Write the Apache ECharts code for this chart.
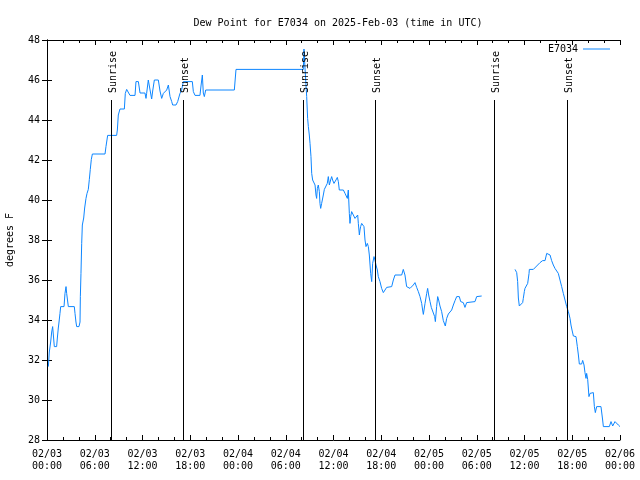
<!DOCTYPE html>
<html>
<head>
<meta charset="utf-8">
<script src="https://cdn.jsdelivr.net/npm/echarts@6/dist/echarts.min.js"></script>
<style>html,body{margin:0;padding:0;background:#fff;}#c{width:640px;height:480px;}</style>
</head>
<body>
<div id="c"></div>
<script>
// hours since 2025-02-03 00:00 UTC
const hours = [
0.17,0.29,0.46,0.59,0.71,0.92,1.21,1.30,1.42,1.51,1.63,1.72,2.14,2.26,2.39,2.47,2.68,3.43,3.52,3.64,3.73,4.02,4.15,4.19,4.27,4.36,4.44,4.61,4.73,4.90,5.03,5.19,5.32,5.44,5.57,5.70,
7.29,7.41,7.62,8.75,8.84,8.96,9.17,9.72,9.84,10.01,10.22,10.43,11.06,11.18,11.48,11.69,12.31,12.44,12.52,12.73,12.94,13.15,13.28,13.49,13.99,14.20,14.41,14.62,15.04,15.25,15.46,15.67,15.79,16.21,16.42,16.71,16.92,17.13,18.26,18.39,18.60,19.22,
19.35,19.52,19.64,19.77,19.94,23.54,23.75,32.21,32.29,32.42,32.63,32.75,
32.84,32.96,33.05,33.17,33.26,33.38,33.55,33.68,33.80,33.88,33.97,34.09,34.22,34.30,34.39,34.51,34.64,34.72,34.85,35.06,35.22,35.35,35.48,35.64,35.77,35.89,36.06,36.31,36.48,36.61,36.73,37.24,37.45,37.57,37.74,37.86,37.99,38.07,38.16,38.28,38.49,38.70,38.91,39.04,39.12,39.25,39.33,39.41,39.54,39.75,39.83,39.96,40.08,40.25,40.38,40.50,40.67,40.80,40.92,41.09,41.21,41.34,41.51,41.63,41.84,42.05,42.26,42.47,42.68,43.31,43.52,43.73,44.57,44.77,44.98,45.19,45.61,
45.81,46.03,46.24,46.45,46.66,46.87,47.08,47.20,47.29,47.50,47.71,47.83,47.96,48.13,48.29,48.54,48.71,48.80,48.96,49.09,49.21,49.38,49.59,49.80,50.05,50.22,50.43,50.64,50.85,51.06,51.27,51.48,51.81,51.98,52.31,52.52,52.73,52.94,53.78,53.99,54.62,
56.5,
58.81,59.02,59.14,59.23,59.35,59.56,59.77,59.85,59.98,60.06,60.27,60.40,60.57,60.61,61.11,61.53,61.95,62.28,62.58,62.79,63.00,63.21,63.41,63.62,63.83,64.04,64.25,64.46,64.67,64.88,65.09,65.30,65.51,65.72,65.84,65.97,66.14,66.47,66.64,66.77,66.89,67.18,67.31,67.48,67.60,67.73,67.81,67.94,68.02,68.10,68.23,68.36,68.65,68.78,68.90,69.07,69.61,69.82,69.91,70.66,70.87,71.08,71.37,71.58,71.79,72.0
];
const dewPoint = [
31.67,32.4,32.9,33.4,33.67,32.67,32.67,33.1,33.6,33.9,34.33,34.67,34.67,35.33,35.67,35.33,34.67,34.67,34.33,33.9,33.67,33.67,33.9,35.17,36.33,37.83,38.75,39.1,39.6,40.08,40.33,40.53,41.03,41.53,42.03,42.3,
42.3,42.67,43.23,43.23,43.5,44.25,44.55,44.55,45.33,45.53,45.5,45.23,45.23,45.92,45.92,45.35,45.35,45.08,45.33,46,46,45.05,45.45,46,46,45.45,45.08,45.33,45.5,45.75,45.17,44.92,44.75,44.75,44.92,45.33,45.5,45.92,45.92,45.42,45.23,45.23,
45.7,46.25,45.35,45.17,45.5,45.5,46.53,46.53,47.55,46.6,45.17,44.08,
43.67,43.25,42.83,42.17,41.33,41,41,40.75,40.25,40.08,40.58,40.75,40.42,39.83,39.58,39.83,39.92,40.25,40.53,40.58,40.83,41.17,40.75,41,41.17,41,40.83,41,41.13,40.92,40.5,40.5,40.33,40.42,40.08,40.5,39.33,38.83,39.17,39.42,39.25,39.08,39.17,39.25,38.83,38.25,38.5,38.67,38.83,38.92,38.67,38,37.67,37.83,37.67,37.25,36.33,35.92,36.83,37.17,37,36.75,36.5,36.17,35.92,35.58,35.37,35.5,35.63,35.67,36,36.25,36.25,36.53,36.25,35.67,35.58,
35.58,35.75,35.87,35.63,35.42,35.17,34.83,34.5,34.28,34.83,35.33,35.58,35.25,34.92,34.63,34.58,34.17,33.92,34.67,35.17,35,34.7,34.42,33.97,33.7,34.08,34.3,34.3,34.5,34.75,34.97,35.17,35.17,34.92,34.87,34.63,34.87,34.92,34.92,35.17,35.2,
null,
36.53,36.37,35.92,35.1,34.7,34.7,34.87,35.08,35.42,35.58,35.58,35.83,36.33,36.53,36.53,36.7,36.87,36.97,36.97,37.33,37.37,37.25,36.97,36.75,36.58,36.5,36.33,36,35.67,35.33,35,34.67,34.42,34.08,33.75,33.5,33.2,33.17,32.67,32.25,31.8,31.8,31.98,31.75,31.37,31.08,31.33,31.03,31,30.17,30.33,30.37,30.37,29.67,29.37,29.67,29.67,29,28.67,28.67,28.92,28.7,28.92,28.92,28.75,28.67
];
const sunHours = [8.04, 17.13, 32.2, 41.25, 56.17, 65.28];
const sunLabels = ['Sunrise', 'Sunset', 'Sunrise', 'Sunset', 'Sunrise', 'Sunset'];
const xTickLabels = ['02/03\n00:00','02/03\n06:00','02/03\n12:00','02/03\n18:00','02/04\n00:00','02/04\n06:00','02/04\n12:00','02/04\n18:00','02/05\n00:00','02/05\n06:00','02/05\n12:00','02/05\n18:00','02/06\n00:00'];
const yTicks = [28,30,32,34,36,38,40,42,44,46,48];

const FONT = 'DejaVu Sans Mono';
const chart = echarts.init(document.getElementById('c'), null, {renderer: 'canvas'});
const lineData = hours.map((h, i) => [h, dewPoint[i]]);

const baseX = {
  type: 'value', min: 0, max: 72, interval: 6,
  axisLine: {show: true, lineStyle: {color: '#000', width: 1}},
  axisTick: {show: true, inside: true, length: 5, lineStyle: {color: '#000'}},
  minorTick: {show: true, splitNumber: 3, length: 3, lineStyle: {color: '#000'}},
  splitLine: {show: false}
};
const baseY = {
  type: 'value', min: 28, max: 48, interval: 2,
  axisLine: {show: true, lineStyle: {color: '#000', width: 1}},
  axisTick: {show: true, inside: true, length: 5, lineStyle: {color: '#000'}},
  splitLine: {show: false}
};

chart.setOption({
  animation: false,
  backgroundColor: '#fff',
  title: {
    text: 'Dew Point for E7034 on 2025-Feb-03 (time in UTC)',
    left: 333, top: 13, textAlign: 'center',
    textStyle: {fontFamily: FONT, fontSize: 10, fontWeight: 'normal', color: '#000'}
  },
  legend: {
    data: [{name: 'E7034', icon: 'rect'}], right: 30, top: 44, align: 'right', padding: 0,
    itemWidth: 27, itemHeight: 1, itemGap: 5,
    itemStyle: {color: '#0d86ff'},
    textStyle: {fontFamily: FONT, fontSize: 10, color: '#000'}
  },
  grid: {left: 47, right: 20, top: 40, bottom: 40, containLabel: false, outerBoundsMode: 'none'},
  xAxis: [
    Object.assign({}, baseX, {
      position: 'bottom',
      axisLabel: {
        show: true, margin: 8, lineHeight: 12, color: '#000', fontFamily: FONT, fontSize: 10,
        formatter: v => xTickLabels[Math.round(v / 6)]
      }
    }),
    Object.assign({}, baseX, {position: 'top', axisLabel: {show: false}})
  ],
  yAxis: [
    Object.assign({}, baseY, {
      position: 'left',
      name: 'degrees F', nameLocation: 'middle', nameGap: 32, nameRotate: 90,
      nameTextStyle: {fontFamily: FONT, fontSize: 10, color: '#000'},
      axisLabel: {show: true, margin: 7, color: '#000', fontFamily: FONT, fontSize: 10,
        formatter: v => String(yTicks[Math.round((v - 28) / 2)])}
    }),
    Object.assign({}, baseY, {position: 'right', axisLabel: {show: false}})
  ],
  series: [
    {
      name: 'E7034', type: 'line', data: lineData,
      xAxisIndex: 0, yAxisIndex: 0,
      symbol: 'none', showSymbol: false, connectNulls: false,
      lineStyle: {color: '#0d86ff', width: 1},
      itemStyle: {color: '#0d86ff'},
      z: 3
    },
    {
      name: 'sun', type: 'custom', xAxisIndex: 0, yAxisIndex: 0,
      data: sunHours.map(h => [h, 28]),
      encode: {x: 0, y: 1},
      silent: true, z: 4,
      renderItem: function (params, api) {
        const h = api.value(0);
        const top = api.coord([h, 45]);
        const bot = api.coord([h, 28]);
        const x = Math.round(top[0]) + 0.5;
        return {
          type: 'group',
          children: [
            {type: 'line', shape: {x1: x, y1: Math.round(top[1]), x2: x, y2: bot[1]},
             style: {stroke: '#000', lineWidth: 1}},
            {type: 'text', x: x + 1.5, y: Math.round(top[1]) - 7, rotation: Math.PI / 2,
             style: {text: sunLabels[params.dataIndex], font: '10px ' + FONT, fill: '#000',
                     align: 'left', verticalAlign: 'middle'}}
          ]
        };
      }
    }
  ]
});
</script>
</body>
</html>
